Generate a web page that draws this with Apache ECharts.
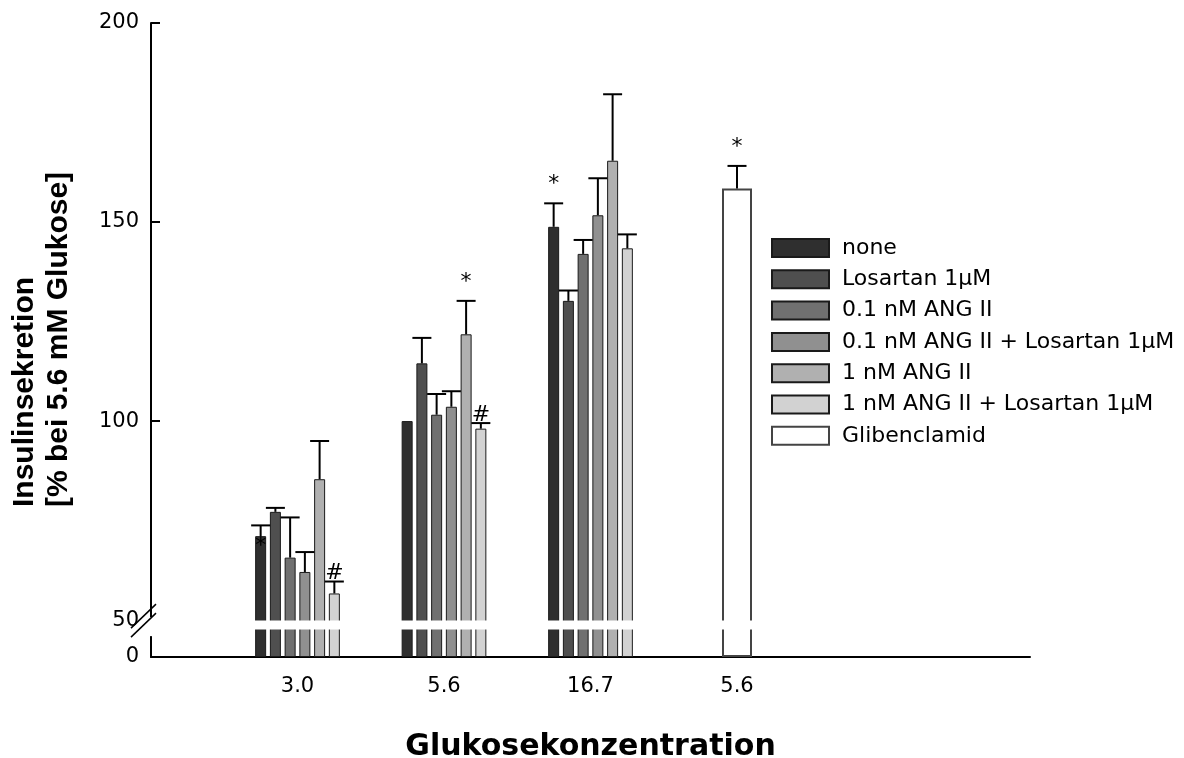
<!DOCTYPE html>
<html>
<head>
<meta charset="utf-8">
<script src="https://cdn.jsdelivr.net/npm/echarts@6.0.0/dist/echarts.min.js"></script>
<style>
  html, body { margin: 0; padding: 0; background: #fff; }
  #chart { width: 1184px; height: 758px; }
</style>
</head>
<body>
<div id="chart"></div>
<script>
var categories = ['', '3.0', '5.6', '16.7', '5.6', '', ''];
var seriesNames = ['none', 'Losartan 1µM', '0.1 nM ANG II', '0.1 nM ANG II + Losartan 1µM',
                   '1 nM ANG II', '1 nM ANG II + Losartan 1µM', 'Glibenclamid'];
var seriesColors = ['#2f2f2f', '#4f4f4f', '#707070', '#909090', '#b0b0b0', '#d2d2d2', '#ffffff'];
var yTickValues = [0, 50, 100, 150, 200];

// means at 3.0 / 5.6 / 16.7 mM glucose
var none = [71.1, 100.0, 148.8];
var losartan = [77.2, 114.5, 130.2];
var ang01 = [65.7, 101.6, 142.0];
var ang01Los = [62.1, 103.6, 151.7];
var ang1 = [85.4, 121.8, 165.4];
var ang1Los = [56.7, 98.1, 143.4];
var gliben = [158.4];   // at 5.6 mM

// error (upper bar only)
var noneErr = [2.7, 0, 5.9];
var losartanErr = [1.0, 6.4, 2.6];
var ang01Err = [10.1, 5.2, 3.5];
var ang01LosErr = [5.0, 3.9, 9.3];
var ang1Err = [9.6, 8.4, 16.7];
var ang1LosErr = [3.0, 1.4, 3.5];
var glibenErr = [5.7];

// significance marks
var noneSig = ['*', '', '*'];
var ang1Sig = ['', '*', ''];
var ang1LosSig = ['#', '#', ''];
var glibenSig = ['*'];

var FONT = 'DejaVu Sans';
var BAR_W = 11;
var BAR_GAP = 0.34;
var PITCH = BAR_W * (1 + BAR_GAP);

var means = [none, losartan, ang01, ang01Los, ang1, ang1Los];
var errs = [noneErr, losartanErr, ang01Err, ang01LosErr, ang1Err, ang1LosErr];
var sigs = [noneSig, [], [], [], ang1Sig, ang1LosSig];

var chart = echarts.init(document.getElementById('chart'));

// error bar data: [category, mean, err, seriesIndex]
var errData = [];
var errMarks = [];
for (var k = 0; k < 6; k++) {
    for (var g = 0; g < 3; g++) {
        errData.push([g + 1, means[k][g], errs[k][g], k]);
        errMarks.push({ text: sigs[k][g] || '', onBar: k === 0 && g === 0 });
    }
}
errData.push([4, gliben[0], glibenErr[0], 6]);
errMarks.push({ text: glibenSig[0], onBar: false });

function pad(arr) {
    return ['-'].concat(arr, ['-', '-', '-']);
}

var series = [];
for (var i = 0; i < 6; i++) {
    series.push({
        name: seriesNames[i],
        type: 'bar',
        xAxisIndex: 0,
        barWidth: BAR_W,
        barGap: (BAR_GAP * 100) + '%',
        itemStyle: { color: seriesColors[i], borderColor: '#1a1a1a', borderWidth: 1 },
        data: pad(means[i])
    });
}
series.push({
    name: seriesNames[6],
    type: 'bar',
    xAxisIndex: 1,
    barWidth: 30,
    itemStyle: { color: seriesColors[6], borderColor: '#444', borderWidth: 2 },
    data: ['-', '-', '-', '-', gliben[0], '-', '-']
});
series.push({
    type: 'custom',
    xAxisIndex: 0,
    z: 5,
    silent: true,
    data: errData,
    renderItem: function (params, api) {
        var cat = api.value(0), val = api.value(1), err = api.value(2), k = api.value(3);
        var base = api.coord([cat, val]);
        var x = base[0] + (k < 6 ? (k - 2.5) * PITCH : 0);
        var topY = api.coord([cat, val + err])[1];
        var children = [];
        if (err > 0) {
            children.push({ type: 'line', shape: { x1: x, y1: base[1], x2: x, y2: topY },
                style: { stroke: '#000', lineWidth: 2 } });
            children.push({ type: 'line', shape: { x1: x - 9.5, y1: topY, x2: x + 9.5, y2: topY },
                style: { stroke: '#000', lineWidth: 2 } });
        }
        var m = errMarks[params.dataIndex];
        if (m.text) {
            var y = m.onBar ? base[1] + 10 : topY - (m.text === '*' ? 8 : -3);
            children.push({ type: 'text', x: x, y: y,
                style: { text: m.text, fontFamily: FONT, fontSize: 22, fill: '#000',
                         align: 'center', verticalAlign: m.onBar ? 'middle' : 'bottom' } });
        }
        return { type: 'group', children: children };
    }
});

var option = {
    animation: false,
    backgroundColor: '#fff',
    grid: { left: 151, right: 154, top: 23, bottom: 101, outerBoundsMode: 'none', containLabel: false },
    legend: {
        orient: 'vertical',
        left: 771,
        top: 237,
        padding: 0,
        itemWidth: 57,
        itemHeight: 18,
        itemGap: 9.3,
        icon: 'rect',
        selectedMode: false,
        data: seriesNames,
        textStyle: { fontFamily: FONT, fontSize: 22, color: '#000', lineHeight: 22, padding: [0, 0, 0, 8] }
    },
    xAxis: [{
        type: 'category',
        data: categories,
        boundaryGap: false,
        axisLine: { lineStyle: { color: '#000', width: 2 } },
        axisTick: { show: false },
        axisLabel: { interval: 0, fontFamily: FONT, fontSize: 21, color: '#000', margin: 19 },
        name: 'Glukosekonzentration',
        nameLocation: 'middle',
        nameGap: 75,
        nameTextStyle: { fontFamily: FONT, fontWeight: 'bold', fontSize: 30, color: '#000' }
    }, {
        type: 'category',
        data: categories,
        boundaryGap: false,
        show: false
    }],
    yAxis: {
        type: 'value',
        min: 0,
        max: 200,
        interval: 50,
        breaks: [{ start: 7, end: 50, gap: 2.26 }],
        breakArea: {
            show: true,
            zigzagAmplitude: 0,
            itemStyle: { color: '#fff', borderWidth: 0, opacity: 1 }
        },
        axisLine: { show: true, lineStyle: { color: '#000', width: 2 } },
        axisTick: { show: true, inside: true, length: 9, lineStyle: { color: '#000', width: 2 },
                    customValues: yTickValues.slice(2) },
        axisLabel: { fontFamily: FONT, fontSize: 21, color: '#000', margin: 12,
                     customValues: yTickValues, hideOverlap: false },
        splitLine: { show: false }
    },
    series: series
};

chart.setOption(option);

// y title and axis break marks
var x0 = chart.convertToPixel({ xAxisIndex: 0 }, 0);
var yHi = chart.convertToPixel({ yAxisIndex: 0 }, 50);
chart.setOption({
    graphic: [{
        type: 'text',
        x: 42,
        y: 507,
        rotation: Math.PI / 2,
        style: {
            text: 'Insulinsekretion\n[% bei 5.6 mM Glukose]',
            fontFamily: 'Liberation Sans',
            fontWeight: 'bold',
            fontSize: 30,
            lineHeight: 34,
            fill: '#000',
            align: 'left',
            verticalAlign: 'middle'
        }
    }, {
        type: 'rect', z: 100,
        shape: { x: x0 - 3, y: yHi - 3, width: 6, height: 19 },
        style: { fill: '#fff' }
    }, {
        type: 'line', z: 101,
        shape: { x1: x0 - 20, y1: yHi + 8, x2: x0 + 5, y2: yHi - 16 },
        style: { stroke: '#000', lineWidth: 1.5 }
    }, {
        type: 'line', z: 101,
        shape: { x1: x0 - 20, y1: yHi + 17, x2: x0 + 5, y2: yHi - 7 },
        style: { stroke: '#000', lineWidth: 1.5 }
    }]
});
</script>
</body>
</html>
